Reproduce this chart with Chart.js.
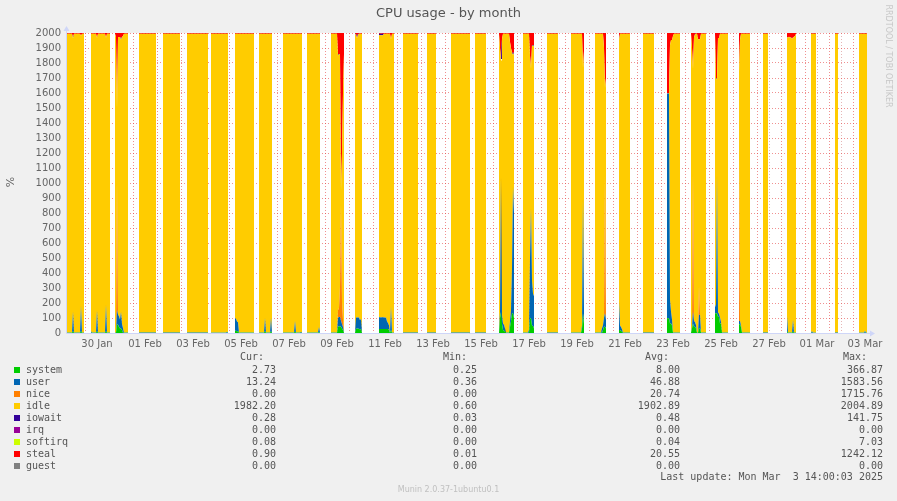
<!DOCTYPE html>
<html>
<head>
<meta charset="utf-8">
<title>CPU usage - by month</title>
<script src="https://cdn.jsdelivr.net/npm/chart.js@4.4.1/dist/chart.umd.min.js"></script>
<style>
  body { margin: 0; background: #f0f0f0; }
  #wrap { position: relative; width: 897px; height: 501px; overflow: hidden; font-family: 'DejaVu Sans', sans-serif; color: #666; }
  #cpuChart { position: absolute; left: 0; top: 0; }
  .t { position: absolute; white-space: pre; }
  .mono { font-family: 'DejaVu Sans Mono', monospace; font-size: 10px; line-height: 12px; color: #555; }
  .swatch { position: absolute; width: 6px; height: 6px; }
</style>
</head>
<body>
<div id="wrap">
  <canvas id="cpuChart" width="897" height="501"></canvas>
</div>
<script>
// time axis is in hours counted from 29 Jan 00:00
const axisStart = 6;    // 29 Jan 06:00
const axisEnd = 806;    // 03 Mar 14:00
const totalCapacity = 2000;  // 20 cpus

// hours with data (white gaps in between have none)
const dataBlocks = [
  [6, 23], [30, 49], [54, 67], [78, 95], [102, 119], [126, 147], [150, 167], [174, 193],
  [198, 211], [222, 241], [246, 259], [270, 283], [294, 301], [318, 333], [342, 357], [366, 375],
  [390, 409], [414, 425], [438, 453], [462, 473], [486, 497], [510, 523], [534, 545], [558, 569],
  [582, 593], [606, 619], [630, 645], [654, 667], [678, 689], [702, 707], [726, 735], [750, 755],
  [774, 777], [798, 806]
];

const dateLabels = ['30 Jan', '01 Feb', '03 Feb', '05 Feb', '07 Feb', '09 Feb', '11 Feb', '13 Feb', '15 Feb',
  '17 Feb', '19 Feb', '21 Feb', '23 Feb', '25 Feb', '27 Feb', '01 Mar', '03 Mar'];

const seriesNames = ['system', 'user', 'nice', 'idle', 'iowait', 'irq', 'softirq', 'steal', 'guest'];
const seriesColors = ['#00cc00', '#0066b3', '#ff8000', '#ffcc00', '#330099', '#990099', '#ccff00', '#ff0000', '#808080'];
// usual reading between the bursts (idle is whatever is left of the 2000)
const usualLevel = [1, 3, 0, null, 0.3, 0, 0.04, 5, 0];

// bursts: [hour, value]
const systemPeaks = [
  [12, 12], [20, 12], [36, 12], [45, 12],
  [56, 58], [57, 55], [58, 40], [59, 30], [60, 30], [61, 20],
  [174, 15], [175, 15], [176, 12], [177, 12], [204, 12], [210, 12], [234, 10], [258, 5],
  [277, 42], [278, 45], [279, 45], [280, 42], [281, 30], [282, 20],
  [295, 27], [296, 30], [297, 30], [298, 27], [299, 25], [300, 25],
  [318, 27], [319, 27], [320, 27], [321, 27], [322, 27], [323, 27], [324, 27], [325, 27], [326, 27], [327, 27], [328, 20], [330, 20],
  [439, 100], [440, 140], [441, 60], [442, 20], [443, 15], [444, 10], [449, 40], [450, 80], [451, 131], [452, 131], [453, 100],
  [469, 98], [470, 98], [471, 49], [472, 49], [473, 30],
  [521, 30], [522, 131], [523, 60],
  [542, 20], [543, 42], [544, 42], [545, 30],
  [558, 20], [559, 20], [560, 15], [561, 10],
  [606, 98], [607, 98], [608, 98], [609, 64], [610, 64], [611, 50],
  [631, 30], [632, 64], [633, 42], [634, 42], [635, 30], [638, 31], [639, 31],
  [654, 131], [655, 131], [656, 131], [657, 109], [658, 109], [659, 64], [660, 64],
  [678, 58], [679, 58], [680, 40],
  [726, 10], [732, 10]
];
const userPeaks = [
  [12, 130], [20, 168], [30, 10], [36, 138], [45, 175],
  [56, 95], [57, 70], [58, 70], [59, 60], [60, 110], [61, 40], [62, 30],
  [166, 8], [174, 83], [175, 80], [176, 65], [177, 60], [204, 86], [210, 90], [234, 70], [240, 8], [258, 35],
  [277, 60], [278, 62], [279, 62], [280, 40], [281, 30], [282, 20],
  [295, 77], [296, 74], [297, 74], [298, 77], [299, 60], [300, 70],
  [318, 77], [319, 80], [320, 75], [321, 80], [322, 77], [323, 78], [324, 75], [325, 77], [326, 50], [327, 40], [328, 30], [330, 155],
  [439, 40], [440, 900], [441, 60], [442, 44], [443, 40], [444, 20], [449, 40], [450, 70], [451, 300], [452, 845], [453, 700],
  [468, 20], [469, 400], [470, 733], [471, 300], [472, 215], [473, 215],
  [521, 20], [522, 767], [523, 100],
  [541, 30], [542, 31], [543, 60], [544, 89], [545, 60],
  [558, 189], [559, 30], [560, 25], [561, 15],
  [606, 1499], [607, 1499], [608, 1499], [609, 156], [610, 80], [611, 40],
  [631, 10], [632, 78], [633, 40], [634, 30], [635, 23], [638, 89], [639, 93],
  [654, 40], [655, 60], [656, 919], [657, 30], [658, 20], [659, 40], [660, 10],
  [678, 22], [679, 22], [680, 10],
  [726, 103], [732, 77], [751, 10], [804, 12]
];
const nicePeaks = [
  [56, 857],
  [277, 50], [278, 60], [279, 200], [280, 780], [281, 150], [282, 50],
  [544, 933], [632, 923], [638, 190], [678, 1089]
];
const iowaitPeaks = [
  [12, 8], [60, 10], [277, 10], [295, 8], [296, 8], [297, 8],
  [318, 10], [319, 10], [320, 10], [321, 10], [322, 10],
  [440, 10], [452, 15], [472, 10], [558, 10], [634, 5], [656, 10], [679, 5]
];
const irqPeaks = [];
const softirqPeaks = [];
const stealPeaks = [
  [12, 27], [20, 20], [36, 31], [45, 31],
  [55, 27], [56, 500], [57, 27], [58, 27], [59, 27], [60, 35], [61, 27], [62, 20],
  [277, 140], [278, 140], [279, 140], [280, 1047], [281, 800], [282, 400], [283, 140],
  [296, 25], [330, 42],
  [439, 100], [440, 173], [441, 40], [449, 60], [450, 100], [451, 131], [452, 131], [453, 131],
  [469, 150], [470, 236], [471, 80], [472, 80], [473, 80],
  [522, 231], [523, 120],
  [543, 100], [544, 365], [545, 300],
  [558, 38],
  [606, 402], [607, 402], [608, 402], [609, 80], [610, 47], [611, 47], [612, 20],
  [631, 100], [632, 238], [633, 30], [637, 42], [638, 42], [639, 42],
  [655, 300], [656, 300], [657, 33], [658, 33],
  [678, 255], [679, 40],
  [726, 29], [727, 29], [728, 25], [729, 29], [730, 29], [731, 40], [732, 29], [733, 25], [734, 20]
];
const guestPeaks = [];

// legend table
const curValues = ['2.73', '13.24', '0.00', '1982.20', '0.28', '0.00', '0.08', '0.90', '0.00'];
const minValues = ['0.25', '0.36', '0.00', '0.60', '0.03', '0.00', '0.00', '0.01', '0.00'];
const avgValues = ['8.00', '46.88', '20.74', '1902.89', '0.48', '0.00', '0.04', '20.55', '0.00'];
const maxValues = ['366.87', '1583.56', '1715.76', '2004.89', '141.75', '0.00', '7.03', '1242.12', '0.00'];


function inBlock(h) {
    return dataBlocks.some(b => h >= b[0] && h <= b[1]);
}

const hours = [];
for (let h = axisStart; h <= axisEnd; h++) hours.push(h);

const peakLists = [systemPeaks, userPeaks, nicePeaks, null, iowaitPeaks, irqPeaks, softirqPeaks, stealPeaks, guestPeaks];
const series = peakLists.map((peaks, i) => {
    if (!peaks) return null;
    const lookup = new Map(peaks);
    return hours.map(h => inBlock(h) ? (lookup.has(h) ? lookup.get(h) : usualLevel[i]) : null);
});
// idle fills the rest up to the 2000 total
series[3] = hours.map((h, k) => {
    if (!inBlock(h)) return null;
    let used = 0;
    series.forEach((arr, j) => { if (j !== 3) used += arr[k]; });
    return totalCapacity - used;
});

const gridHours = [];
for (let h = 12; h <= axisEnd; h += 12) gridHours.push(h);

const minorGrid = 'rgba(205, 110, 110, 0.5)';
const majorGrid = 'rgba(230, 70, 70, 0.6)';
const axisColor = '#cfd6f8';

// white canvas behind the data, lavender axes with arrows on top
const plotFrame = {
    id: 'plotFrame',
    beforeDraw(chart) {
        const { ctx, chartArea: a } = chart;
        ctx.save();
        ctx.fillStyle = '#ffffff';
        ctx.fillRect(a.left, a.top, a.right - a.left, a.bottom - a.top);
        ctx.restore();
    },
    afterDraw(chart) {
        const { ctx, chartArea: a } = chart;
        ctx.save();
        ctx.strokeStyle = axisColor;
        ctx.fillStyle = axisColor;
        ctx.lineWidth = 1;
        ctx.beginPath();
        ctx.moveTo(a.left - 0.5, a.bottom + 0.5);
        ctx.lineTo(a.right + 5, a.bottom + 0.5);
        ctx.moveTo(a.left - 0.5, a.bottom + 0.5);
        ctx.lineTo(a.left - 0.5, a.top - 4);
        ctx.stroke();
        ctx.beginPath();
        ctx.moveTo(a.right + 3, a.bottom - 2.5);
        ctx.lineTo(a.right + 8, a.bottom + 0.5);
        ctx.lineTo(a.right + 3, a.bottom + 3.5);
        ctx.closePath();
        ctx.fill();
        ctx.beginPath();
        ctx.moveTo(a.left - 3.5, a.top - 2);
        ctx.lineTo(a.left - 0.5, a.top - 7);
        ctx.lineTo(a.left + 2.5, a.top - 2);
        ctx.closePath();
        ctx.fill();
        ctx.restore();
    }
};

Chart.defaults.font.family = "'DejaVu Sans', sans-serif";
Chart.defaults.font.size = 10;
Chart.defaults.color = '#666';

const ctx = document.getElementById('cpuChart').getContext('2d');
new Chart(ctx, {
    type: 'line',
    data: {
        datasets: seriesNames.map((name, i) => ({
            label: name,
            data: hours.map((h, k) => ({ x: h, y: series[i][k] })),
            backgroundColor: seriesColors[i],
            borderColor: 'rgba(0,0,0,0)',
            borderWidth: 0,
            pointRadius: 0,
            pointHoverRadius: 0,
            tension: 0,
            spanGaps: false,
            fill: i === 0 ? 'origin' : '-1'
        }))
    },
    options: {
        responsive: false,
        animation: false,
        events: [],
        layout: { padding: { left: 0, right: 30, top: 33, bottom: 148 } },
        plugins: {
            legend: { display: false },
            title: { display: false },
            tooltip: { enabled: false }
        },
        scales: {
            x: {
                type: 'linear',
                min: axisStart,
                max: axisEnd,
                z: 1,
                afterBuildTicks: scale => { scale.ticks = gridHours.map(v => ({ value: v })); },
                afterFit: scale => { scale.height = 20; },
                grid: {
                    color: c => (c.tick && c.tick.value % 24 === 0) ? majorGrid : minorGrid,
                    drawTicks: false
                },
                border: { display: false, dash: [1, 2] },
                ticks: {
                    autoSkip: false,
                    maxRotation: 0,
                    padding: 5,
                    callback: v => ((v - 36) % 48 === 0 ? dateLabels[(v - 36) / 48] : '')
                }
            },
            y: {
                min: 0,
                max: totalCapacity,
                stacked: true,
                z: 1,
                afterFit: scale => { scale.width = 67; },
                grid: { color: majorGrid, drawTicks: false },
                border: { display: false, dash: [1, 2] },
                ticks: { stepSize: 100, padding: 6, callback: v => String(v) }
            }
        }
    },
    plugins: [plotFrame]
});


// texts around the plot
const wrap = document.getElementById('wrap');
function addText(text, css) {
    const el = document.createElement('div');
    el.className = 't';
    el.textContent = text;
    Object.assign(el.style, css);
    wrap.appendChild(el);
    return el;
}

addText('CPU usage - by month', { left: '0px', width: '897px', top: '5px', textAlign: 'center', fontSize: '13px', lineHeight: '16px', color: '#555' });
addText('%', { left: '1px', top: '176px', width: '20px', textAlign: 'center', fontSize: '11px', lineHeight: '12px', color: '#666', transform: 'rotate(-90deg)' });
addText('RRDTOOL / TOBI OETIKER', { left: '828px', top: '51px', width: '120px', textAlign: 'center', fontSize: '8px', lineHeight: '10px', color: '#c8c8c8', transform: 'rotate(90deg)' });
addText('Munin 2.0.37-1ubuntu0.1', { left: '0px', width: '897px', top: '485px', textAlign: 'center', fontSize: '8px', lineHeight: '10px', color: '#c0c0c0' });

function monoText(text, left, right, yc) {
    const el = addText(text, { top: (yc - 6) + 'px' });
    el.classList.add('mono');
    if (left !== null) el.style.left = left + 'px';
    else el.style.right = (897 - right) + 'px';
}

monoText('Cur:', 240, null, 357);
monoText('Min:', 443, null, 357);
monoText('Avg:', 645, null, 357);
monoText('Max:', 843, null, 357);

seriesNames.forEach((name, i) => {
    const yc = 370 + i * 12;
    const sw = document.createElement('div');
    sw.className = 'swatch';
    sw.style.left = '14px';
    sw.style.top = (yc - 3) + 'px';
    sw.style.background = seriesColors[i];
    wrap.appendChild(sw);
    monoText(name, 26, null, yc);
    monoText(curValues[i], null, 276, yc);
    monoText(minValues[i], null, 477, yc);
    monoText(avgValues[i], null, 680, yc);
    monoText(maxValues[i], null, 883, yc);
});
monoText('Last update: Mon Mar  3 14:00:03 2025', null, 883, 477);
</script>
</body>
</html>
